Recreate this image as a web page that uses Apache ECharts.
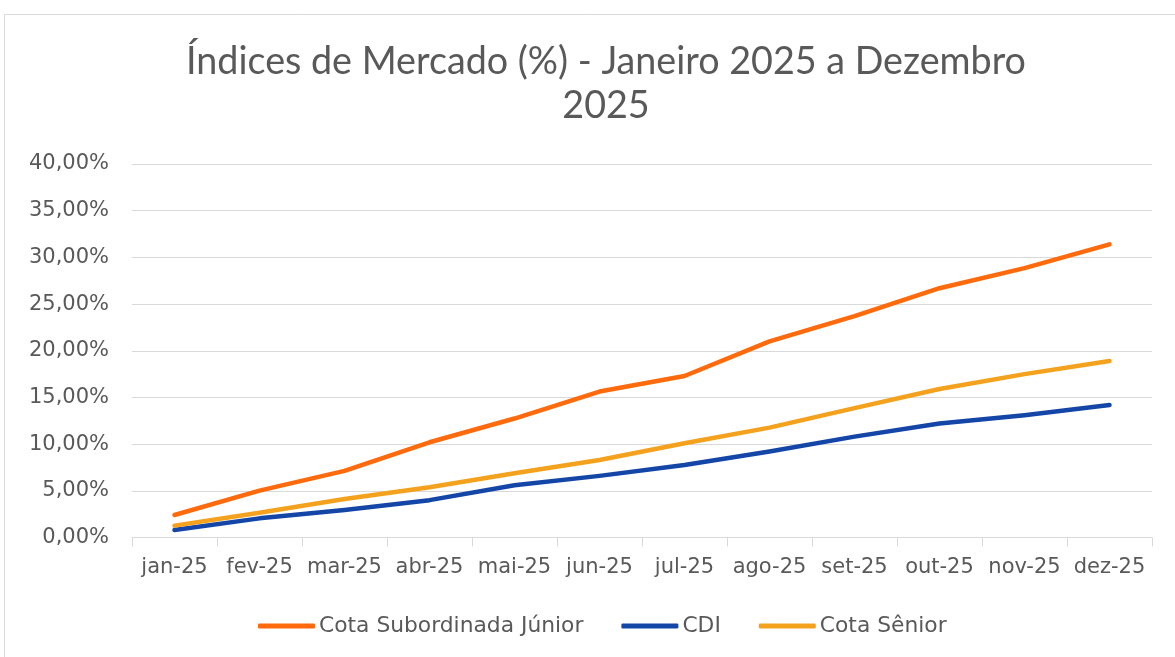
<!DOCTYPE html>
<html>
<head>
<meta charset="utf-8">
<script src="https://cdn.jsdelivr.net/npm/echarts@6/dist/echarts.min.js"></script>
<style>html,body{margin:0;padding:0;background:#fff}#c{width:1175px;height:657px}</style>
</head>
<body>
<div id="c"></div>
<script>
const categories = ['jan-25','fev-25','mar-25','abr-25','mai-25','jun-25','jul-25','ago-25','set-25','out-25','nov-25','dez-25'];
const juniorValues = [2.41, 5.02, 7.13, 10.2, 12.74, 15.63, 17.3, 21.0, 23.7, 26.7, 28.85, 31.4];
const cdiValues = [0.8, 2.05, 2.95, 4.0, 5.6, 6.6, 7.77, 9.2, 10.8, 12.2, 13.1, 14.2];
const seniorValues = [1.27, 2.66, 4.12, 5.38, 6.88, 8.3, 10.1, 11.77, 13.85, 15.9, 17.5, 18.9];
const seriesNames = ['Cota Subordinada Júnior', 'CDI', 'Cota Sênior'];
const titleText = 'Índices de Mercado (%) - Janeiro 2025 a Dezembro\n2025';

const colors = ['#FF6A0D', '#1446A8', '#F4A21E'];
const titleFont = 'Lato, "Noto Sans", sans-serif';
const labelFont = '"DejaVu Sans", sans-serif';
const chart = echarts.init(document.getElementById('c'));
const mk = (name, data, color) => ({
  name, type: 'line', data, symbol: 'none', smooth: false,
  lineStyle: { width: 4.5, color, cap: 'round', join: 'round' },
  itemStyle: { color }
});
chart.setOption({
  animation: false,
  graphic: [{ type: 'rect', shape: { x: 4.5, y: 14.5, width: 1200, height: 700 },
    style: { fill: 'none', stroke: '#d9d9d9', lineWidth: 1 } }],
  title: {
    text: titleText, left: 601, top: 35, textAlign: 'center',
    textStyle: { fontFamily: titleFont, fontSize: 37.7, fontWeight: 'normal', color: '#595959', lineHeight: 44 }
  },
  legend: {
    bottom: 20, left: 258, padding: 0, itemWidth: 57, itemHeight: 5, itemGap: 38,
    icon: 'roundRect',
    textStyle: { fontFamily: labelFont, fontSize: 21.8, color: '#595959', padding: [0,0,0,-1] },
    data: seriesNames
  },
  grid: { left: 132, right: 23, top: 164, bottom: 119.5, containLabel: false },
  xAxis: {
    type: 'category', data: categories, boundaryGap: true,
    axisLine: { lineStyle: { color: '#d9d9d9', width: 1 } },
    axisTick: { show: true, length: 9, lineStyle: { color: '#d9d9d9' } },
    axisLabel: { interval: 0, fontFamily: labelFont, fontSize: 21, color: '#595959', margin: 20 }
  },
  yAxis: {
    type: 'value', min: 0, max: 40, interval: 5,
    axisLine: { show: false }, axisTick: { show: false },
    splitLine: { lineStyle: { color: '#d9d9d9', width: 1 } },
    axisLabel: { fontFamily: labelFont, fontSize: 21, color: '#595959', margin: 23,
      formatter: v => v.toFixed(2).replace('.', ',') + '%' }
  },
  series: [
    mk(seriesNames[0], juniorValues, colors[0]),
    mk(seriesNames[1], cdiValues, colors[1]),
    mk(seriesNames[2], seniorValues, colors[2])
  ]
});
</script>
</body>
</html>
